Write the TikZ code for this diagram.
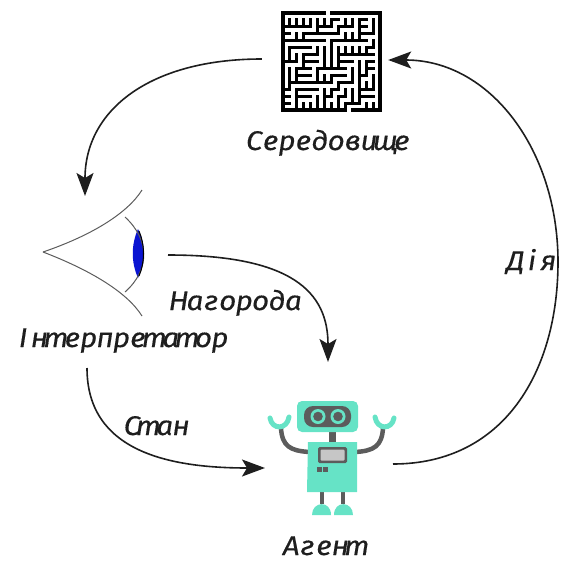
\documentclass[tikz,border=0pt]{standalone}
\usepackage{fontspec}
\usetikzlibrary{arrows.meta,calc}
\newfontfamily\lblfont{Fira Sans}[FakeStretch=1.1, FakeBold=0.3]
\definecolor{robotteal}{HTML}{66E3C6}
\definecolor{robotgray}{HTML}{5C5C5C}
\definecolor{lensblue}{HTML}{0A14D2}
\definecolor{inkdark}{HTML}{1E1E1E}
% set a word letter by letter on a fixed pitch
\newcommand\fixedpitch[1]{\fixedpitchstep#1\relax}
\def\fixedpitchstep#1{\ifx\relax#1\else\makebox[16.4pt]{#1}\expandafter\fixedpitchstep\fi}
\tikzset{
  lbl/.style={font=\lblfont\itshape\fontsize{27}{30}\selectfont, inner sep=0pt, anchor=base, text=inkdark},
  flow/.style={draw=inkdark, line width=1.6pt, -{Stealth[length=23pt,width=17pt,inset=5pt]}},
  eyeline/.style={draw=robotgray, line width=1pt},
  mazewall/.style={line width=3pt, line cap=rect, draw=black},
  part/.style={fill=robotteal},
  dark/.style={fill=robotgray},
}
\begin{document}
\begin{tikzpicture}[x=1pt, y=-1pt]
\useasboundingbox (0,0) rectangle (562,562);

% ---------- environment: a maze ----------
\node[minimum width=97pt, minimum height=98pt, inner sep=0pt] (maze) at (331.5,61) {};
\begin{scope}[shift={(283,110)}, x=6.93pt, y=6.93pt]
  \pgfmathsetseed{11}
  % binary-tree maze: each inner cell opens either east or north
  \foreach \i in {0,...,12}{
    \foreach \j in {0,...,12}{
      \pgfmathrandominteger{\r}{0}{1}
      \ifnum\r=1
        \draw[mazewall] (\i,\j+1) -- (\i+1,\j+1);
      \else
        \draw[mazewall] (\i+1,\j) -- (\i+1,\j+1);
      \fi
    }
  }
  \draw[mazewall, line width=3.6pt] (6,14) -- (0,14) -- (0,0) -- (9,0);
  \draw[mazewall, line width=3.6pt] (10,0) -- (14,0) -- (14,14) -- (7,14);
\end{scope}
\node[lbl] (envlbl) at (328,150) {\fixedpitch{Середовище}};

% ---------- interpreter: an eye ----------
\node[minimum width=101pt, minimum height=126pt, inner sep=0pt] (eye) at (93,253) {};
\draw[eyeline] (43,252) .. controls (90,236) and (127,214) .. (142,190);
\draw[eyeline] (43,252) .. controls (90,270) and (127,292) .. (142,316);
\fill[lensblue] (138,229) .. controls (131,245) and (131,262) .. (138,278)
                .. controls (146,262) and (146,245) .. (138,229);
\draw[eyeline] (125,217) .. controls (150,240) and (150,270) .. (125,292);
\draw[draw=black, line width=1pt] (139,231) .. controls (145,245) and (145,262) .. (139,276);
\node[lbl] (intlbl) at (121.5,347) {\fixedpitch{Інтерпретатор}};

% ---------- agent: a robot ----------
\node[minimum width=110pt, minimum height=112pt, inner sep=0pt] (agent) at (327,458) {};
% arms
\draw[robotgray, line width=4.5pt] (310,452) .. controls (290,451) and (282,446) .. (281,428);
\draw[robotgray, line width=4.5pt] (355,452) .. controls (374,451) and (382,446) .. (383,428);
% hands
\draw[robotteal, line width=5pt, line cap=round] (270,418) .. controls (272,430) and (287,430) .. (289,417);
\draw[robotteal, line width=5pt, line cap=round] (375,417) .. controls (377,430) and (392,430) .. (394,418);
% legs and feet
\draw[robotgray, line width=4.5pt] (322,488) -- (322,504);
\draw[robotgray, line width=4.5pt] (343,488) -- (343,504);
\fill[part] (312,515) .. controls (312,501) and (331,500) .. (331,515) -- cycle;
\fill[part] (334,515) .. controls (334,500) and (353,501) .. (353,515) -- cycle;
% neck and body
\fill[dark] (329,429) rectangle (336,444);
\fill[part] (308,442) -- (357,442) -- (357,492) -- (307,492) -- cycle;
\fill[dark, rounded corners=1.5pt] (318,447) rectangle (347,463);
\fill[gray!45, rounded corners=1pt] (320.5,449.5) rectangle (344.5,460.5);
\fill[dark] (316.5,467) rectangle (321.5,472);
\fill[dark] (323,467) rectangle (328,472);
% head
\fill[part, rounded corners=5pt] (297,401) rectangle (358,432);
\fill[dark, rounded corners=9pt] (304,406) rectangle (351,427);
\foreach \ex in {318,338}{
  \fill[robotteal] (\ex,416.5) circle (7.5pt);
  \fill[robotgray] (\ex,416.5) circle (4.8pt);
}
\node[lbl] (agtlbl) at (324,555) {\fixedpitch{Агент}};

% ---------- connectors ----------
\coordinate (envout) at ($(maze.west)+(-21,-2)$);
\coordinate (eyein) at (85,196);
\coordinate (rewout) at (168,255);
\coordinate (rewin) at (328,362);
\coordinate (stout) at (87,368);
\coordinate (stin) at (265,468);
\coordinate (actout) at (393,464);
\coordinate (actin) at ($(maze.east)+(8,-1)$);

\draw[flow] (envout) .. controls (150,59) and (85,110) .. (eyein);
\draw[flow] (rewout) .. controls (292,255) and (328,292) .. (rewin);
\draw[flow] (stout) .. controls (87,452) and (170,468) .. (stin);
\draw[flow] (actout) .. controls (505,464) and (558,370) .. (558,262)
                     .. controls (558,150) and (490,60) .. (actin);

\node[lbl] (rewlbl) at (236,310) {\fixedpitch{Нагорода}};
\node[lbl] (stlbl) at (156.5,435) {\fixedpitch{Стан}};
\node[lbl] (actlbl) at (532,270) {\fixedpitch{Дія}};
\end{tikzpicture}
\end{document}
